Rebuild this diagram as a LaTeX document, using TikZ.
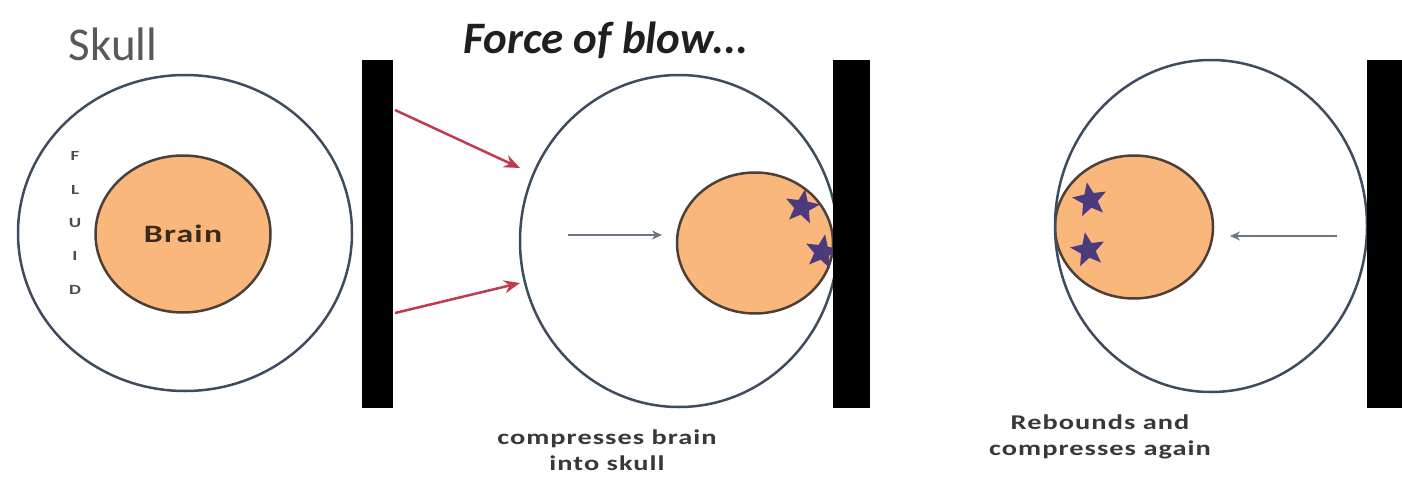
\documentclass[tikz,border=0pt]{standalone}
\usepackage{fontspec}
\setmainfont{Carlito}
\newfontfamily\widefont[FakeStretch=1.35, LetterSpace=5]{Carlito}
\usetikzlibrary{shapes.geometric,arrows.meta}

\definecolor{skullline}{HTML}{3E4C5E}
\definecolor{brainfill}{HTML}{F9B77C}
\definecolor{brainline}{HTML}{4A4038}
\definecolor{braintext}{HTML}{3A2A1C}
\definecolor{bruise}{HTML}{4B3B7E}
\definecolor{blowred}{HTML}{C23A4E}
\definecolor{motion}{HTML}{6B7682}

\tikzset{
  skull/.style={draw=skullline, line width=2.5pt, ellipse, inner sep=0pt},
  brain/.style={draw=brainline, fill=brainfill, line width=2.5pt, ellipse, inner sep=0pt},
  wall/.style={fill=black, rectangle, inner sep=0pt, anchor=north west, minimum height=348pt},
  bruisestar/.style={star, star points=5, star point ratio=2.3, fill=bruise, minimum size=36pt, inner sep=0pt},
  blow/.style={-{Stealth[length=16pt,width=13pt]}, draw=blowred, fill=blowred, line width=2.5pt},
  shove/.style={-{Stealth[length=10pt,width=9pt]}, draw=motion, fill=motion, line width=1.8pt},
  caption/.style={text=black!78, font=\widefont\bfseries\fontsize{21}{26}\selectfont, align=center},
}

\begin{document}
\begin{tikzpicture}[x=1pt, y=-1pt]
    \useasboundingbox (0,0) rectangle (1402,487);
    \clip (0,0) rectangle (1402,487);

    % Resting head
    \node[skull, minimum width=334pt, minimum height=316pt] (skullA) at (185,233) {};
    \node[brain, minimum width=175pt, minimum height=157pt, font=\widefont\bfseries\fontsize{25}{30}\selectfont, text=braintext] (brainA) at (183,234) {Brain};
    \node[text=black!65, font=\fontsize{47}{52}\selectfont] (skulltext) at (113,44) {Skull};
    \node[text=black!70, font=\widefont\bfseries\fontsize{14}{33.3}\selectfont, align=center, inner sep=0pt] (fluid) at (75,223) {F\\L\\U\\I\\D};
    \node[wall, minimum width=31pt] (wallA) at (362,60) {};

    % Blow arrows
    \coordinate (hitA) at (395,110);
    \coordinate (hitB) at (395,313);
    \coordinate (skullB-up) at (520,168);
    \coordinate (skullB-down) at (520,283);
    \draw[blow] (hitA) -- (skullB-up);
    \draw[blow] (hitB) -- (skullB-down);

    % Brain thrown forward
    \begin{scope}
        \clip (679,241) ellipse [x radius=159pt, y radius=166pt];
        \node[brain, minimum width=156pt, minimum height=141pt] (brainB) at (755,243) {};
        \node[bruisestar, rotate=-10] (starB1) at (802,207) {};
        \node[bruisestar, rotate=-10] (starB2) at (822,252) {};
    \end{scope}
    \node[skull, minimum width=318pt, minimum height=332pt] (skullB) at (679,241) {};
    \node[wall, minimum width=37pt] (wallB) at (833,60) {};
    \coordinate (pushA) at (568,235);
    \coordinate (pushB) at (662,235);
    \draw[shove] (pushA) -- (pushB);
    \node[text=black!88, font=\bfseries\itshape\fontsize{45}{50}\selectfont] (force) at (606,40) {Force of blow...};
    \node[caption] (capB) at (607,450) {compresses brain\\into skull};

    % Brain rebounds
    \begin{scope}
        \clip (1211,226) ellipse [x radius=156pt, y radius=166pt];
        \node[brain, minimum width=158pt, minimum height=143pt] (brainC) at (1134,227) {};
        \node[bruisestar, rotate=10] (starC1) at (1090,200) {};
        \node[bruisestar, rotate=10] (starC2) at (1088,250) {};
    \end{scope}
    \node[skull, minimum width=312pt, minimum height=332pt] (skullC) at (1211,226) {};
    \node[wall, minimum width=60pt] (wallC) at (1367,60) {};
    \coordinate (backA) at (1337,236);
    \coordinate (backB) at (1230,236);
    \draw[shove] (backA) -- (backB);
    \node[caption] (capC) at (1100,437) {Rebounds and\\compresses again};
\end{tikzpicture}
\end{document}
